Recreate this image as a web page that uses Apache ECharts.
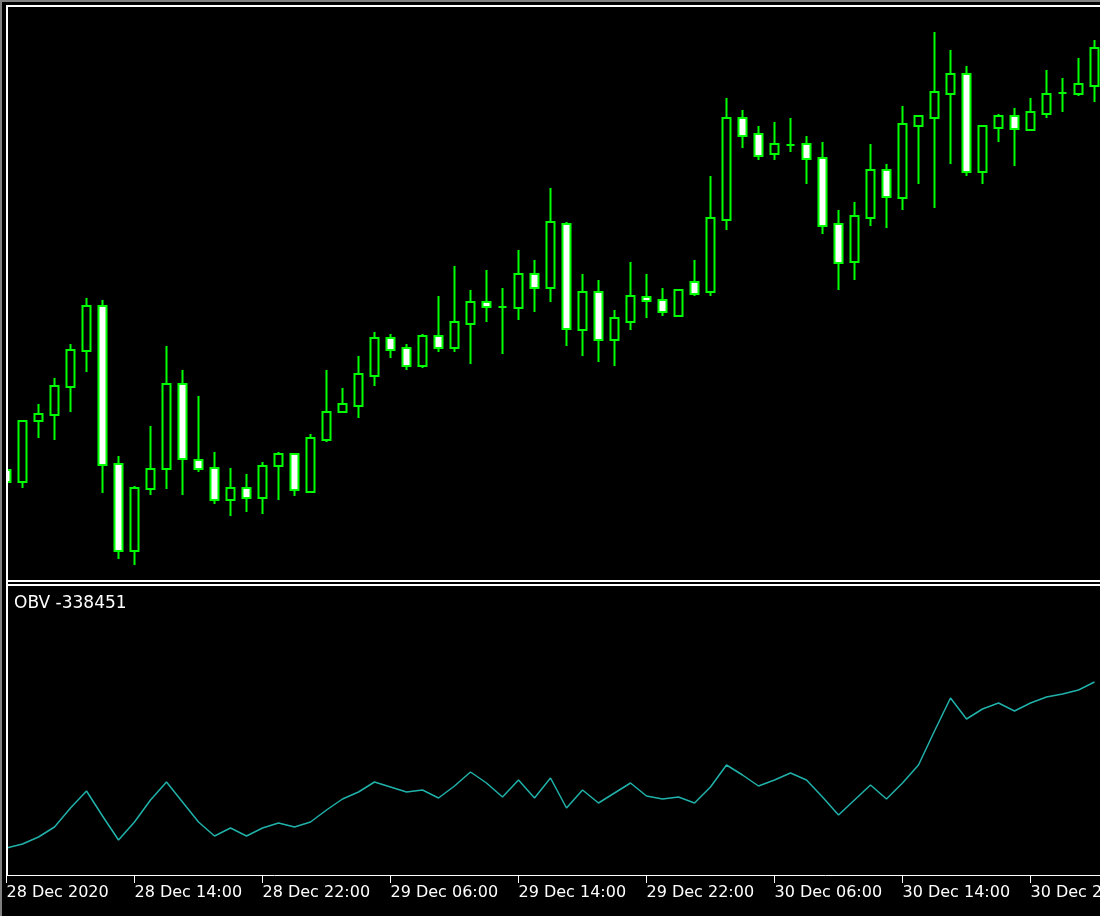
<!DOCTYPE html>
<html>
<head>
<meta charset="utf-8">
<script src="https://cdn.jsdelivr.net/npm/echarts@6/dist/echarts.min.js"></script>
<style>
html,body{margin:0;padding:0;background:#000;}
#chart{width:1100px;height:916px;}
</style>
</head>
<body>
<div id="chart"></div>
<script>
// Hourly bars, 28 Dec 2020 06:00 .. 31 Dec 2020 02:00
const categories = [
  '28 Dec 06:00','28 Dec 07:00','28 Dec 08:00','28 Dec 09:00','28 Dec 10:00','28 Dec 11:00','28 Dec 12:00','28 Dec 13:00',
  '28 Dec 14:00','28 Dec 15:00','28 Dec 16:00','28 Dec 17:00','28 Dec 18:00','28 Dec 19:00','28 Dec 20:00','28 Dec 21:00',
  '28 Dec 22:00','28 Dec 23:00','29 Dec 00:00','29 Dec 01:00','29 Dec 02:00','29 Dec 03:00','29 Dec 04:00','29 Dec 05:00',
  '29 Dec 06:00','29 Dec 07:00','29 Dec 08:00','29 Dec 09:00','29 Dec 10:00','29 Dec 11:00','29 Dec 12:00','29 Dec 13:00',
  '29 Dec 14:00','29 Dec 15:00','29 Dec 16:00','29 Dec 17:00','29 Dec 18:00','29 Dec 19:00','29 Dec 20:00','29 Dec 21:00',
  '29 Dec 22:00','29 Dec 23:00','30 Dec 00:00','30 Dec 01:00','30 Dec 02:00','30 Dec 03:00','30 Dec 04:00','30 Dec 05:00',
  '30 Dec 06:00','30 Dec 07:00','30 Dec 08:00','30 Dec 09:00','30 Dec 10:00','30 Dec 11:00','30 Dec 12:00','30 Dec 13:00',
  '30 Dec 14:00','30 Dec 15:00','30 Dec 16:00','30 Dec 17:00','30 Dec 18:00','30 Dec 19:00','30 Dec 20:00','30 Dec 21:00',
  '30 Dec 22:00','30 Dec 23:00','31 Dec 00:00','31 Dec 01:00','31 Dec 02:00'
];
const tickLabels = ['28 Dec 2020','28 Dec 14:00','28 Dec 22:00','29 Dec 06:00','29 Dec 14:00','29 Dec 22:00','30 Dec 06:00','30 Dec 14:00','30 Dec 22:00'];

const openP = [1.22280,1.22268,1.22329,1.22335,1.22363,1.22399,1.22444,1.22286,1.22199,1.22261,
  1.22281,1.22366,1.22290,1.22282,1.22250,1.22262,1.22252,1.22284,1.22296,1.22258,
  1.22310,1.22338,1.22344,1.22374,1.22412,1.22402,1.22384,1.22414,1.22402,1.22426,
  1.22448,1.22443,1.22442,1.22476,1.22462,1.22526,1.22420,1.22458,1.22410,1.22428,
  1.22453,1.22450,1.22434,1.22468,1.22458,1.22530,1.22632,1.22616,1.22596,1.22605,
  1.22606,1.22592,1.22526,1.22488,1.22532,1.22580,1.22552,1.22624,1.22632,1.22656,
  1.22676,1.22578,1.22622,1.22634,1.22620,1.22636,1.22657,1.22656,1.22664];
const highP = [1.22284,1.22330,1.22346,1.22372,1.22406,1.22452,1.22450,1.22294,1.22264,1.22324,
  1.22404,1.22380,1.22354,1.22298,1.22282,1.22276,1.22288,1.22298,1.22297,1.22316,
  1.22380,1.22362,1.22394,1.22418,1.22416,1.22406,1.22416,1.22454,1.22484,1.22460,
  1.22480,1.22462,1.22500,1.22490,1.22562,1.22528,1.22476,1.22470,1.22440,1.22488,
  1.22476,1.22462,1.22460,1.22490,1.22574,1.22652,1.22640,1.22624,1.22628,1.22632,
  1.22614,1.22608,1.22540,1.22548,1.22606,1.22586,1.22644,1.22634,1.22718,1.22700,
  1.22684,1.22624,1.22636,1.22642,1.22652,1.22680,1.22672,1.22692,1.22710];
const lowP = [1.22264,1.22262,1.22312,1.22310,1.22338,1.22378,1.22257,1.22191,1.22185,1.22255,
  1.22261,1.22255,1.22278,1.22246,1.22234,1.22238,1.22236,1.22250,1.22254,1.22258,
  1.22308,1.22338,1.22332,1.22364,1.22392,1.22380,1.22382,1.22398,1.22398,1.22386,
  1.22428,1.22396,1.22430,1.22438,1.22448,1.22404,1.22394,1.22388,1.22384,1.22420,
  1.22432,1.22434,1.22434,1.22454,1.22454,1.22520,1.22602,1.22590,1.22590,1.22598,
  1.22566,1.22516,1.22460,1.22470,1.22524,1.22522,1.22540,1.22566,1.22542,1.22586,
  1.22574,1.22566,1.22608,1.22584,1.22620,1.22632,1.22638,1.22654,1.22648];
const closeP = [1.22268,1.22329,1.22336,1.22364,1.22400,1.22444,1.22285,1.22199,1.22262,1.22281,
  1.22366,1.22291,1.22281,1.22250,1.22262,1.22252,1.22284,1.22296,1.22260,1.22312,
  1.22338,1.22346,1.22376,1.22412,1.22400,1.22384,1.22414,1.22402,1.22428,1.22448,
  1.22443,1.22443,1.22476,1.22462,1.22528,1.22421,1.22458,1.22410,1.22432,1.22454,
  1.22449,1.22438,1.22460,1.22456,1.22532,1.22632,1.22614,1.22594,1.22606,1.22605,
  1.22591,1.22524,1.22487,1.22534,1.22580,1.22553,1.22626,1.22634,1.22658,1.22676,
  1.22578,1.22624,1.22634,1.22621,1.22638,1.22656,1.22657,1.22666,1.22702];

const obv = [-670451,-662451,-648451,-628451,-590451,-556451,-606451,-654451,-618451,-574451,
  -538451,-578451,-618451,-646451,-630451,-646451,-630451,-620451,-628451,-618451,
  -594451,-572451,-558451,-538451,-548451,-558451,-554451,-570451,-546451,-518451,
  -540451,-568451,-534451,-570451,-530451,-590451,-554451,-580451,-560451,-540451,
  -566451,-572451,-568451,-580451,-548451,-504451,-524451,-546451,-534451,-520451,
  -534451,-568451,-604451,-574451,-544451,-572451,-540451,-504451,-436451,-370451,
  -412451,-392451,-380451,-396451,-380451,-368451,-362451,-354451,-338451];
const obvLabel = 'OBV -338451';

const ohlc = categories.map((c, i) => [openP[i], closeP[i], lowP[i], highP[i]]);

const W = 1100;
const nBars = categories.length;
const band = 16;
const gridLeft = -1.5;
const FONT = 'DejaVu Sans';

const chart = echarts.init(document.getElementById('chart'), null, {renderer: 'canvas'});
chart.setOption({
  backgroundColor: '#000000',
  animation: false,
  grid: [
    {left: gridLeft, top: 7, width: band * nBars, height: 573, outerBoundsMode: 'none', containLabel: false},
    {left: gridLeft, top: 587, width: band * nBars, height: 288, outerBoundsMode: 'none', containLabel: false}
  ],
  xAxis: [
    {type: 'category', gridIndex: 0, data: categories, boundaryGap: true, show: false},
    {type: 'category', gridIndex: 1, data: categories, boundaryGap: true,
     axisLine: {show: true, lineStyle: {color: '#ffffff', width: 1}},
     axisTick: {show: true, interval: 7, alignWithLabel: true, length: 8, lineStyle: {color: '#ffffff', width: 1}},
     axisLabel: {show: true, interval: 7, align: 'left', margin: 10, color: '#ffffff',
       fontFamily: FONT, fontSize: 16, hideOverlap: false,
       formatter: (v, idx) => (idx % 8 === 0 ? tickLabels[idx / 8] : '')},
     splitLine: {show: false}}
  ],
  yAxis: [
    {type: 'value', gridIndex: 0, min: 1.2217, max: 1.22743, show: false, splitLine: {show: false}},
    {type: 'value', gridIndex: 1, min: -724451, max: -148451, show: false, splitLine: {show: false}}
  ],
  series: [
    {type: 'candlestick', xAxisIndex: 0, yAxisIndex: 0, data: ohlc, barWidth: 8, clip: true,
     itemStyle: {color: '#000000', color0: '#ffffff', borderColor: '#00ff00', borderColor0: '#00ff00',
       borderColorDoji: '#00ff00', borderWidth: 2}},
    {type: 'line', xAxisIndex: 1, yAxisIndex: 1, data: obv, showSymbol: false, symbol: 'none',
     lineStyle: {color: '#20b2aa', width: 1.5}, clip: true}
  ],
  graphic: [
    {type: 'rect', z: 100, shape: {x: 0, y: 0, width: 6, height: 916}, style: {fill: '#000000'}},
    {type: 'rect', z: 101, shape: {x: 0, y: 0, width: 2, height: 916}, style: {fill: '#808080'}},
    {type: 'rect', z: 101, shape: {x: 0, y: 0, width: W, height: 2}, style: {fill: '#808080'}},
    {type: 'rect', z: 102, shape: {x: 6, y: 5, width: W - 6, height: 2}, style: {fill: '#ffffff'}},
    {type: 'rect', z: 102, shape: {x: 6, y: 5, width: 2, height: 870}, style: {fill: '#ffffff'}},
    {type: 'rect', z: 102, shape: {x: 6, y: 580, width: W - 6, height: 2}, style: {fill: '#ffffff'}},
    {type: 'rect', z: 102, shape: {x: 6, y: 584, width: W - 6, height: 2}, style: {fill: '#ffffff'}},
    {type: 'text', z: 103, x: 14, y: 604,
     style: {text: obvLabel, fill: '#ffffff', font: '17px "DejaVu Sans"', verticalAlign: 'middle', align: 'left'}}
  ]
});
</script>
</body>
</html>
